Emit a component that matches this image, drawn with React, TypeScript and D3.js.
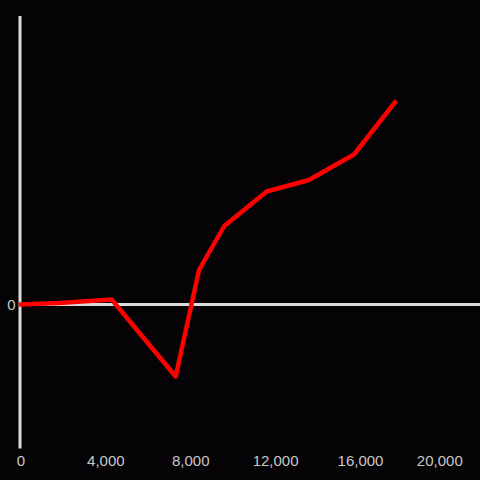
import React from "react";
import * as d3 from "d3";

const xValues = [0, 1800, 4270, 7290, 8390, 9580, 11580, 13570, 15690, 17620];
const yValues = [0, 1.5, 5, -72, 34.5, 78.5, 113, 124.5, 150, 202];
const xTicks = [0, 4000, 8000, 12000, 16000, 20000];
const yTicks = [0];

const W = 480;
const H = 480;

export default function App() {
  const x = d3.scaleLinear().domain([0, 16000]).range([21, 360.5]);
  const y = d3.scaleLinear().domain([-144, 288]).range([448.5, 16.5]);
  const data = xValues.map((v, i) => [v, yValues[i]] as [number, number]);
  const line = d3
    .line<[number, number]>()
    .x((d) => x(d[0]))
    .y((d) => y(d[1]));
  const fmt = d3.format(",");
  const axisColor = "#dcdcdc";
  const textColor = "#c8c8c8";
  const font = "'Liberation Sans', Arial, sans-serif";

  return (
    <svg
      width={W}
      height={H}
      style={{ position: "fixed", left: 0, top: 0, display: "block" }}
    >
      <rect x={0} y={0} width={W} height={H} fill="#050306" />
      <line x1={20} x2={20} y1={16} y2={448.5} stroke={axisColor} strokeWidth={3} />
      <line x1={20} x2={W} y1={y(0)} y2={y(0)} stroke={axisColor} strokeWidth={3} />
      {yTicks.map((t) => (
        <text
          key={t}
          x={15.5}
          y={y(t)}
          textAnchor="end"
          dominantBaseline="central"
          fill={textColor}
          fontSize={15}
          fontFamily={font}
        >
          {fmt(t)}
        </text>
      ))}
      {xTicks.map((t) => {
        const label = fmt(t);
        const halfW = label.length * 3.7;
        const cx = Math.min(x(t), 462 - halfW);
        return (
          <text
            key={t}
            x={cx}
            y={466}
            textAnchor="middle"
            fill={textColor}
            fontSize={15}
            fontFamily={font}
          >
            {label}
          </text>
        );
      })}
      <path
        d={line(data) || ""}
        fill="none"
        stroke="#ff0000"
        strokeWidth={4.5}
        strokeLinejoin="round"
        strokeLinecap="square"
      />
    </svg>
  );
}
